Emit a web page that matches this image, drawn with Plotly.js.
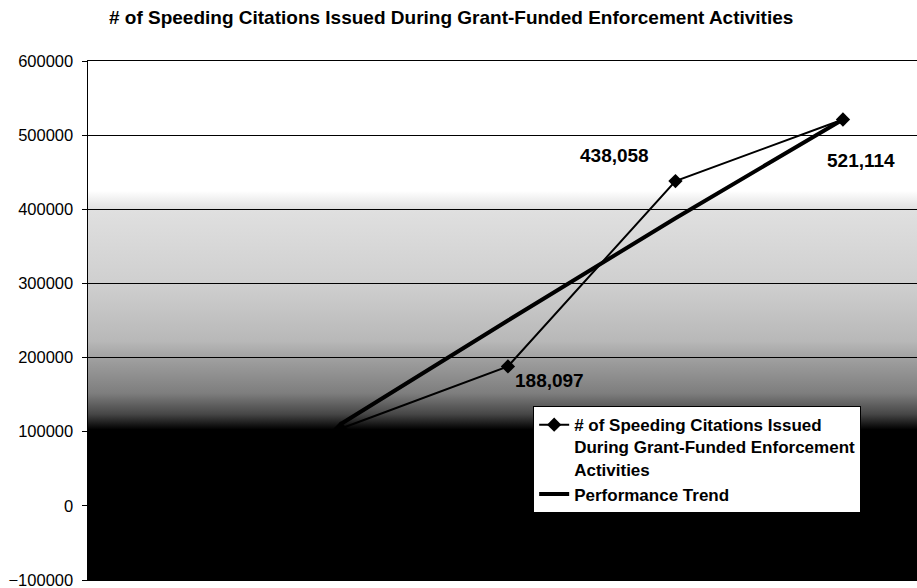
<!DOCTYPE html>
<html>
<head>
<meta charset="utf-8">
<script src="https://cdn.plot.ly/plotly-3.0.1.min.js"></script>
<style>
  html, body { margin: 0; padding: 0; background: #ffffff; }
  #chart { width: 917px; height: 588px; }
</style>
</head>
<body>
<div id="chart"></div>
<script>
// ---- data ----
const categories = ["Period 1", "Period 2", "Period 3", "Period 4", "Period 5"];
const citations = [null, 104000, 188097, 438058, 521114];
const trend = [null, 110000, 250000, 388000, 521114];
const seriesNames = ["# of Speeding Citations Issued<br>During Grant-Funded Enforcement<br>Activities", "Performance Trend"];
const yTicks = [-100000, 0, 100000, 200000, 300000, 400000, 500000, 600000];
const labelledIdx = [2, 3, 4];
const titleText = "# of Speeding Citations Issued During Grant-Funded Enforcement Activities";

// ---- styling ----
const FONT = "'Liberation Sans', Arial, sans-serif";
const labelOffsets = { 2: [42, -14], 3: [-61, 26], 4: [18, -41] };

const gradSvg =
  '<svg xmlns="http://www.w3.org/2000/svg" width="100" height="700" preserveAspectRatio="none">' +
  '<defs><linearGradient id="g" x1="0" y1="0" x2="0" y2="1">' +
  '<stop offset="0" stop-color="#ffffff"/>' +
  '<stop offset="0.25" stop-color="#ffffff"/>' +
  '<stop offset="0.285" stop-color="#e0e0e0"/>' +
  '<stop offset="0.43" stop-color="#cfcfcf"/>' +
  '<stop offset="0.54" stop-color="#b8b8b8"/>' +
  '<stop offset="0.58" stop-color="#9c9c9c"/>' +
  '<stop offset="0.64" stop-color="#7e7e7e"/>' +
  '<stop offset="0.68" stop-color="#474747"/>' +
  '<stop offset="0.71" stop-color="#000000"/>' +
  '<stop offset="1" stop-color="#000000"/>' +
  '</linearGradient></defs>' +
  '<rect x="0" y="0" width="100" height="700" fill="url(#g)"/></svg>';
const gradUri = "data:image/svg+xml;charset=utf-8," + encodeURIComponent(gradSvg);

const traces = [
  {
    x: categories, y: citations, type: "scatter", mode: "lines+markers",
    name: seriesNames[0],
    line: { color: "#000000", width: 2 },
    marker: { symbol: "diamond", size: 11, color: "#000000" },
    connectgaps: false
  },
  {
    x: categories, y: trend, type: "scatter", mode: "lines",
    name: seriesNames[1],
    line: { color: "#000000", width: 4 }
  }
];

const annotations = labelledIdx.map(i => ({
  x: categories[i], y: citations[i], xref: "x", yref: "y",
  text: "<b>" + citations[i].toLocaleString("en-US") + "</b>",
  showarrow: false,
  xshift: labelOffsets[i][0], yshift: labelOffsets[i][1],
  font: { family: FONT, size: 19, color: "#000000" }
}));

const layout = {
  width: 917, height: 588,
  margin: { l: 88, r: 0, t: 61, b: 8 },
  paper_bgcolor: "#ffffff",
  plot_bgcolor: "rgba(0,0,0,0)",
  title: {
    text: "<b>" + titleText + "</b>",
    font: { family: FONT, size: 19, color: "#000000" },
    x: 0.492, xanchor: "center", xref: "container",
    y: 1 - 17 / 588, yanchor: "middle", yref: "container"
  },
  showlegend: true,
  legend: {
    x: 0.537, y: 0.335, xanchor: "left", yanchor: "top",
    bgcolor: "#ffffff", bordercolor: "#000000", borderwidth: 1,
    font: { family: FONT, size: 17, color: "#000000", weight: "bold" },
    valign: "top",
    tracegroupgap: 0
  },
  xaxis: {
    type: "category",
    range: [-0.507, 4.442],
    showticklabels: false,
    showgrid: false,
    zeroline: false,
    showline: true, linecolor: "#000000", linewidth: 1, mirror: true,
    ticks: ""
  },
  yaxis: {
    range: [-100000, 600000],
    tickvals: yTicks,
    tickformat: "d",
    showgrid: true, gridcolor: "#000000", gridwidth: 1,
    zeroline: false,
    showline: true, linecolor: "#000000", linewidth: 1.5,
    ticks: "outside", ticklen: 5, tickcolor: "#000000",
    ticklabelstandoff: 5,
    ticklabeloverflow: "allow",
    tickfont: { family: FONT, size: 16.5, color: "#000000" }
  },
  annotations: annotations,
  images: [{
    source: gradUri, xref: "paper", yref: "paper",
    x: 0, y: 1, sizex: 1, sizey: 1,
    xanchor: "left", yanchor: "top",
    sizing: "stretch", layer: "below"
  }]
};

Plotly.newPlot("chart", traces, layout, { displayModeBar: false, staticPlot: true });
</script>
</body>
</html>
